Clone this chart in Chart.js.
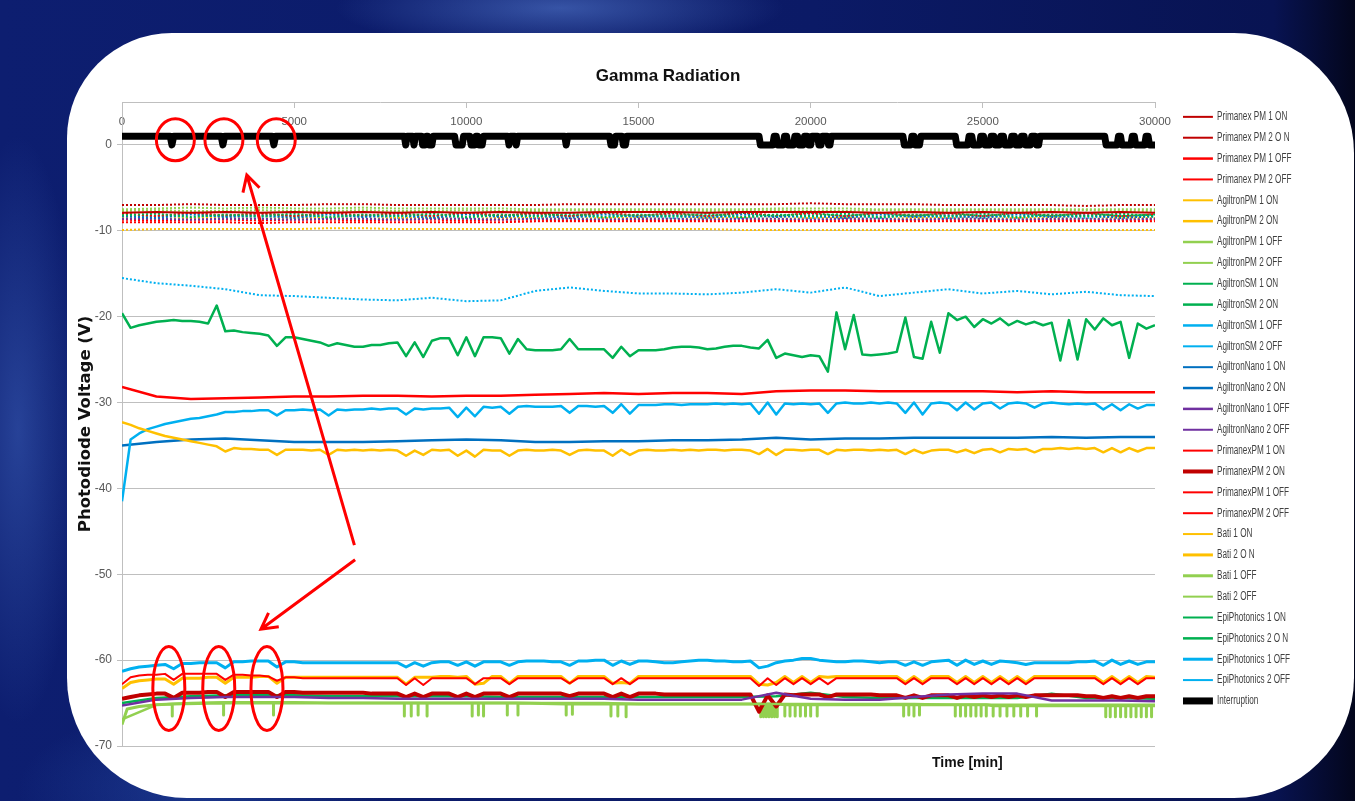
<!DOCTYPE html>
<html lang="en">
<head>
  <meta charset="UTF-8">
  <title>Gamma Radiation</title>
  <script src="https://cdn.jsdelivr.net/npm/chart.js"></script>
  <style>
    body {
      margin: 0;
      width: 1355px;
      height: 801px;
      overflow: hidden;
      position: relative;
      background:
        radial-gradient(ellipse 320px 60px at 560px 8px, rgba(90,130,215,0.55), transparent 70%),
        radial-gradient(ellipse 90px 420px at 18px 430px, rgba(70,110,200,0.45), transparent 70%),
        radial-gradient(ellipse 260px 120px at 200px 790px, rgba(40,80,170,0.5), transparent 70%),
        linear-gradient(90deg, #0d1e70 0%, #0b1a66 60%, #081352 94%, #03061c 100%);
    }
    .card {
      position: absolute;
      left: 67px;
      top: 33px;
      width: 1287px;
      height: 765px;
      background: #fff;
      border-radius: 105px 120px 120px 120px;
    }
    canvas {
      position: absolute;
      left: 0;
      top: 0;
    }
  </style>
</head>
<body>
<div class="card"></div>
<canvas id="grafico" width="1355" height="801"></canvas>

<script>
  // time grids (minutes)
  const tCoarse = [0,1000,2000,3000,4000,5000,6000,7000,8000,9000,10000,11000,12000,13000,14000,15000,
    16000,17000,18000,19000,20000,21000,22000,23000,24000,25000,26000,27000,28000,29000,30000];

  const tFine = [0,250,500,750,1000,1250,1500,1750,2000,2250,2500,2750,3000,3250,3500,3750,4000,4250,4500,4750,
    5000,5250,5500,5750,6000,6250,6500,6750,7000,7250,7500,7750,8000,8250,8500,8750,9000,9250,9500,9750,
    10000,10250,10500,10750,11000,11250,11500,11750,12000,12250,12500,12750,13000,13250,13500,13750,14000,14250,14500,14750,
    15000,15250,15500,15750,16000,16250,16500,16750,17000,17250,17500,17750,18000,18250,18500,18750,19000,19250,19500,19750,
    20000,20250,20500,20750,21000,21250,21500,21750,22000,22250,22500,22750,23000,23250,23500,23750,24000,24250,24500,24750,
    25000,25250,25500,25750,26000,26250,26500,26750,27000,27250,27500,27750,28000,28250,28500,28750,29000,29250,29500,29750,30000];

  // coarse series (V)
  const primanexPm1On = [-7.0,-7.0,-6.9,-7.0,-7.0,-7.0,-6.9,-6.9,-7.0,-7.0,-7.0,-7.0,-7.0,-6.9,-6.9,-6.9,-6.9,-6.9,-6.9,-6.9,-6.8,-6.9,-6.9,-6.9,-7.0,-7.0,-7.0,-7.0,-7.1,-7.0,-7.0];
  const primanexPm2On = [-7.9,-7.8,-7.9,-7.8,-7.9,-7.8,-7.9,-7.8,-7.9,-7.8,-7.9,-7.8,-7.9,-7.9,-7.8,-7.8,-7.8,-7.9,-7.8,-7.8,-7.8,-7.8,-7.9,-7.8,-7.9,-7.8,-7.9,-7.8,-7.9,-7.8,-7.9];
  const primanexPm1Off = [-28.2,-29.3,-29.6,-29.5,-29.4,-29.3,-29.3,-29.2,-29.2,-29.3,-29.2,-29.2,-29.1,-29.0,-28.9,-29.0,-28.9,-28.9,-29.0,-28.7,-28.6,-28.6,-28.7,-28.7,-28.7,-28.7,-28.8,-28.7,-28.8,-28.8,-28.8];
  const primanexPm2Off = [-9.0,-9.0,-9.0,-9.0,-9.1,-9.0,-9.0,-9.0,-9.0,-9.0,-9.0,-9.0,-8.9,-8.9,-8.9,-8.9,-8.9,-8.9,-8.9,-8.9,-8.9,-8.9,-8.9,-8.9,-8.9,-8.9,-8.9,-8.9,-8.9,-8.9,-8.9];
  const agiltronPm1On = [-9.9,-9.8,-9.8,-9.8,-9.8,-9.8,-9.7,-9.7,-9.8,-9.8,-9.8,-9.8,-9.8,-9.8,-9.8,-9.8,-9.8,-9.8,-9.9,-9.9,-9.9,-9.9,-9.9,-9.9,-9.9,-9.9,-9.9,-9.9,-9.9,-9.9,-9.9];
  const agiltronPm1Off = [-66.9,-65.2,-65.0,-64.9,-64.9,-64.9,-65.0,-65.0,-65.0,-65.0,-65.0,-65.0,-65.0,-65.0,-65.0,-65.1,-65.1,-65.1,-65.1,-65.1,-65.1,-65.1,-65.1,-65.1,-65.2,-65.2,-65.2,-65.2,-65.2,-65.2,-65.2];
  const agiltronPm2Off = [-7.5,-7.4,-7.3,-7.4,-7.3,-7.4,-7.4,-7.3,-7.4,-7.4,-7.4,-7.4,-7.5,-7.5,-7.5,-7.5,-7.5,-7.5,-7.5,-7.4,-7.4,-7.4,-7.5,-7.5,-7.5,-7.5,-7.5,-7.5,-7.5,-7.5,-7.5];
  const agiltronSm1On = [-8.2,-8.0,-8.4,-8.1,-8.3,-8.0,-8.4,-8.1,-8.3,-8.0,-8.4,-8.1,-8.3,-8.0,-8.4,-8.1,-8.3,-8.0,-8.4,-8.1,-8.3,-8.0,-8.4,-8.1,-8.3,-8.0,-8.4,-8.1,-8.3,-8.0,-8.3];
  const agiltronSm2Off = [-15.5,-16.1,-16.4,-16.8,-17.5,-17.6,-17.8,-18.0,-18.1,-17.8,-18.2,-18.1,-17.0,-16.6,-17.0,-17.3,-17.3,-17.4,-17.2,-16.8,-17.2,-16.6,-17.6,-17.2,-16.8,-17.3,-17.0,-17.4,-17.1,-17.5,-17.6];
  const agiltronNano1On = [-8.3,-8.5,-8.1,-8.4,-8.2,-8.5,-8.1,-8.4,-8.2,-8.5,-8.1,-8.4,-8.2,-8.5,-8.1,-8.4,-8.2,-8.5,-8.1,-8.4,-8.2,-8.5,-8.1,-8.4,-8.2,-8.5,-8.1,-8.4,-8.2,-8.5,-8.3];
  const agiltronNano2On = [-35.0,-34.6,-34.3,-34.2,-34.4,-34.6,-34.6,-34.6,-34.5,-34.4,-34.3,-34.4,-34.6,-34.6,-34.5,-34.5,-34.4,-34.4,-34.3,-34.1,-34.3,-34.2,-34.2,-34.1,-34.1,-34.1,-34.1,-34.0,-34.1,-34.0,-34.0];
  const agiltronNano1Off = [-65.3,-64.6,-64.4,-64.3,-64.3,-64.3,-64.4,-64.4,-64.5,-64.5,-64.5,-64.5,-64.5,-64.5,-64.5,-64.6,-64.6,-64.6,-64.6,-63.8,-64.5,-64.6,-64.6,-64.3,-64.0,-63.9,-63.9,-64.7,-64.7,-64.7,-64.8];
  const agiltronNano2Off = [-8.6,-8.6,-8.7,-8.6,-8.6,-8.7,-8.6,-8.6,-8.7,-8.6,-8.6,-8.7,-8.6,-8.6,-8.7,-8.6,-8.6,-8.7,-8.6,-8.6,-8.7,-8.6,-8.6,-8.7,-8.6,-8.6,-8.7,-8.6,-8.6,-8.7,-8.6];
  const primanexPM1On = [-8.0,-8.3,-7.9,-8.2,-8.0,-8.3,-7.9,-8.2,-8.0,-8.3,-7.9,-8.2,-8.0,-8.3,-7.9,-8.2,-8.0,-8.3,-7.9,-8.2,-8.0,-8.3,-7.9,-8.2,-8.0,-8.3,-7.9,-8.2,-8.0,-8.3,-8.1];
  const primanexPM2Off = [-8.7,-8.8,-8.7,-8.7,-8.8,-8.7,-8.7,-8.8,-8.7,-8.7,-8.8,-8.7,-8.7,-8.8,-8.7,-8.7,-8.8,-8.7,-8.7,-8.8,-8.7,-8.7,-8.8,-8.7,-8.7,-8.8,-8.7,-8.7,-8.8,-8.7,-8.7];
  const bati1On = [-8.5,-8.6,-8.5,-8.5,-8.6,-8.5,-8.5,-8.6,-8.5,-8.5,-8.6,-8.5,-8.5,-8.6,-8.5,-8.5,-8.6,-8.5,-8.5,-8.6,-8.5,-8.5,-8.6,-8.5,-8.5,-8.6,-8.5,-8.5,-8.6,-8.5,-8.5];
  const bati2Off = [-7.7,-7.6,-7.7,-7.7,-7.6,-7.7,-7.7,-7.6,-7.7,-7.7,-7.6,-7.7,-7.7,-7.6,-7.7,-7.7,-7.6,-7.7,-7.7,-7.6,-7.7,-7.7,-7.6,-7.7,-7.7,-7.6,-7.7,-7.7,-7.6,-7.7,-7.7];
  const epiPhotonics1On = [-8.0,-8.3,-7.9,-8.3,-7.9,-8.3,-7.9,-8.3,-7.9,-8.3,-7.9,-8.3,-7.9,-8.3,-7.9,-8.3,-7.9,-8.3,-7.9,-8.3,-7.9,-8.3,-7.9,-8.3,-7.9,-8.3,-7.9,-8.3,-7.9,-8.3,-8.1];
  const epiPhotonics2On = [-65.0,-64.4,-64.2,-64.1,-64.1,-64.1,-64.2,-64.2,-64.2,-64.2,-64.2,-64.3,-64.3,-64.3,-64.3,-64.3,-64.3,-64.3,-64.3,-64.2,-63.8,-64.3,-64.4,-64.4,-64.4,-64.4,-64.4,-63.9,-64.4,-64.4,-64.5];
  const epiPhotonics2Off = [-8.4,-8.2,-8.5,-8.2,-8.5,-8.2,-8.5,-8.2,-8.5,-8.2,-8.5,-8.2,-8.5,-8.2,-8.5,-8.2,-8.5,-8.2,-8.5,-8.2,-8.5,-8.2,-8.5,-8.2,-8.5,-8.2,-8.5,-8.2,-8.5,-8.2,-8.4];

  // fine series (V)
  const agiltronPm2On = [
    -32.3,-32.6,-33.0,-33.3,-33.6,-33.9,-34.1,-34.3,-34.5,-34.7,-34.9,-35.1,-35.7,-35.3,-35.4,-35.4,-35.5,-35.5,-36.1,-35.5,
    -35.5,-35.5,-35.6,-35.5,-36.1,-35.5,-35.6,-35.5,-35.6,-35.5,-35.6,-35.5,-35.6,-36.2,-35.6,-36.1,-35.5,-35.6,-35.5,-36.2,
    -35.6,-36.3,-35.5,-35.6,-35.6,-36.2,-35.6,-35.5,-35.6,-35.6,-35.5,-35.6,-36.1,-35.6,-35.5,-35.6,-35.6,-36.2,-35.5,-36.1,
    -35.6,-35.5,-35.6,-35.6,-35.5,-35.6,-35.5,-35.6,-35.5,-35.5,-35.6,-35.5,-35.5,-35.6,-36.0,-35.4,-36.1,-35.5,-35.5,-35.6,
    -35.5,-35.5,-36.0,-35.5,-35.6,-35.5,-35.5,-35.6,-35.5,-35.6,-35.5,-36.0,-35.5,-35.9,-35.6,-35.5,-35.5,-35.8,-35.5,-35.9,
    -35.5,-35.4,-35.8,-35.4,-35.5,-35.4,-35.8,-35.4,-35.4,-35.3,-35.4,-35.3,-35.4,-35.3,-35.8,-35.3,-35.8,-35.3,-35.7,-35.3,-35.3];
  const agiltronSm2On = [
    -19.6,-21.3,-21.0,-20.8,-20.6,-20.5,-20.4,-20.5,-20.5,-20.6,-20.8,-18.7,-21.7,-21.6,-21.8,-21.9,-22.0,-22.2,-23.4,-22.4,
    -22.4,-22.6,-22.8,-23.0,-23.4,-23.1,-23.3,-23.5,-23.5,-23.3,-23.3,-23.1,-23.0,-24.6,-23.0,-24.7,-22.8,-22.5,-22.5,-24.5,
    -22.4,-24.6,-22.4,-22.4,-22.5,-24.3,-22.6,-23.8,-23.9,-23.9,-23.9,-23.8,-22.6,-23.8,-23.8,-23.8,-23.8,-24.8,-23.5,-24.6,
    -23.9,-23.9,-23.9,-23.8,-23.6,-23.5,-23.5,-23.6,-23.8,-23.7,-23.5,-23.4,-23.4,-23.6,-23.7,-22.7,-24.8,-24.3,-24.5,-24.7,
    -24.5,-24.6,-26.4,-19.5,-23.8,-19.8,-24.4,-24.5,-24.4,-24.3,-24.1,-20.1,-24.7,-24.9,-20.6,-24.2,-19.6,-20.4,-20.0,-21.2,
    -20.3,-20.8,-20.2,-21.0,-20.5,-20.9,-20.6,-21.0,-20.7,-25.1,-20.4,-25.0,-20.3,-21.5,-20.2,-21.0,-20.6,-24.8,-20.8,-21.4,-21.0];
  const agiltronSm1Off = [
    -41.5,-34.3,-33.6,-33.1,-32.8,-32.5,-32.3,-32.1,-31.9,-31.8,-31.6,-31.4,-31.1,-31.1,-31.0,-31.0,-30.9,-30.9,-31.5,-30.9,
    -30.9,-30.8,-30.9,-30.8,-31.5,-30.8,-30.9,-30.8,-30.8,-30.7,-30.8,-30.7,-30.7,-31.4,-30.7,-30.8,-30.7,-30.7,-30.6,-31.7,
    -30.6,-31.6,-30.5,-30.6,-30.5,-31.3,-30.5,-30.4,-30.5,-30.5,-30.5,-30.4,-31.2,-30.4,-30.4,-30.5,-30.4,-31.2,-30.2,-31.3,
    -30.3,-30.3,-30.3,-30.2,-30.2,-30.3,-30.2,-30.2,-30.2,-30.1,-30.2,-30.1,-30.2,-30.1,-31.3,-30.0,-31.4,-30.1,-30.2,-30.1,
    -30.2,-30.1,-31.2,-30.1,-30.0,-30.1,-30.1,-30.0,-30.1,-30.0,-30.1,-31.2,-30.0,-31.4,-30.1,-30.0,-30.1,-30.9,-30.0,-30.8,
    -30.1,-30.0,-30.7,-30.1,-30.0,-30.1,-30.6,-30.1,-30.0,-30.1,-30.2,-30.1,-30.2,-30.1,-30.8,-30.2,-30.9,-30.2,-30.7,-30.3,-30.3];
  const primanexPM2On = [
    -64.5,-64.3,-64.1,-64.0,-63.9,-63.9,-64.4,-63.8,-63.8,-63.8,-63.7,-63.7,-64.3,-63.7,-63.7,-63.7,-63.7,-63.7,-64.3,-63.7,
    -63.7,-63.8,-63.8,-63.8,-63.8,-63.8,-63.8,-63.8,-63.8,-63.9,-63.9,-63.9,-63.9,-64.3,-63.9,-64.3,-63.9,-63.9,-63.9,-64.3,
    -63.9,-64.3,-63.9,-63.9,-63.9,-64.3,-63.9,-63.9,-63.9,-63.9,-63.9,-63.9,-64.2,-63.9,-63.9,-63.9,-63.9,-64.3,-63.9,-64.3,
    -63.9,-63.9,-63.9,-64.0,-64.0,-64.0,-64.0,-64.0,-64.0,-64.0,-64.0,-64.0,-64.0,-64.0,-66.0,-64.1,-65.4,-64.0,-64.1,-64.0,
    -64.0,-64.0,-64.3,-64.0,-64.0,-64.0,-64.0,-64.0,-64.1,-64.1,-64.1,-64.4,-64.1,-64.4,-64.1,-64.1,-64.1,-64.4,-64.1,-64.3,
    -64.1,-64.3,-64.1,-64.3,-64.1,-64.3,-64.1,-64.1,-64.1,-64.1,-64.1,-64.1,-64.2,-64.2,-64.4,-64.2,-64.4,-64.2,-64.4,-64.2,-64.2];
  const primanexPM1Off = [
    -62.8,-62.0,-61.8,-61.7,-61.7,-61.6,-62.3,-61.6,-61.6,-61.6,-61.6,-61.6,-62.3,-61.7,-61.7,-61.8,-61.8,-61.9,-62.4,-62.0,
    -62.0,-62.1,-62.1,-62.1,-62.1,-62.1,-62.1,-62.1,-62.1,-62.1,-62.1,-62.1,-62.1,-62.9,-62.1,-62.9,-62.1,-62.1,-62.1,-62.1,
    -62.1,-62.8,-62.1,-62.1,-62.1,-62.8,-62.1,-62.1,-62.1,-62.1,-62.1,-62.1,-62.7,-62.1,-62.1,-62.1,-62.1,-62.8,-62.1,-62.8,
    -62.1,-62.1,-62.1,-62.1,-62.1,-62.1,-62.1,-62.1,-62.1,-62.1,-62.1,-62.1,-62.1,-62.1,-63.0,-62.1,-62.9,-62.1,-62.8,-62.1,
    -62.8,-62.1,-62.8,-62.1,-62.1,-62.1,-62.1,-62.1,-62.1,-62.1,-62.1,-62.8,-62.1,-62.8,-62.1,-62.1,-62.1,-62.8,-62.1,-62.8,
    -62.1,-62.8,-62.1,-62.8,-62.1,-62.8,-62.1,-62.1,-62.1,-62.1,-62.1,-62.1,-62.1,-62.1,-62.8,-62.1,-62.8,-62.1,-62.8,-62.1,-62.1];
  const bati2On = [
    -63.3,-62.6,-62.4,-62.3,-62.2,-62.2,-62.8,-62.1,-62.1,-62.1,-62.0,-62.0,-62.7,-62.0,-62.0,-62.0,-61.9,-61.9,-62.7,-62.0,
    -62.0,-62.0,-62.0,-62.0,-62.0,-62.0,-62.0,-62.0,-62.0,-62.0,-62.0,-62.0,-62.0,-62.8,-62.0,-62.0,-62.0,-61.9,-61.9,-62.0,
    -61.9,-62.8,-62.7,-61.9,-61.9,-62.7,-61.9,-61.9,-61.9,-61.9,-61.9,-61.9,-62.7,-61.9,-61.9,-61.9,-61.9,-62.7,-62.6,-62.7,
    -61.9,-61.9,-61.9,-61.9,-61.9,-61.9,-61.9,-61.9,-61.9,-61.9,-61.9,-61.9,-61.9,-61.9,-62.8,-62.9,-62.6,-61.9,-62.6,-61.9,
    -62.6,-61.9,-62.0,-61.9,-61.9,-61.9,-61.9,-61.9,-61.9,-61.9,-61.9,-62.6,-61.9,-62.6,-61.9,-61.9,-61.9,-62.6,-61.9,-62.6,
    -61.9,-62.6,-61.9,-62.6,-61.9,-62.6,-61.9,-61.9,-61.9,-61.9,-61.9,-61.9,-61.9,-61.9,-62.6,-61.9,-62.6,-61.9,-62.6,-61.9,-62.0];
  const epiPhotonics1Off = [
    -61.3,-61.0,-60.8,-60.7,-60.6,-60.5,-61.0,-60.4,-60.4,-60.3,-60.3,-60.3,-60.9,-60.2,-60.2,-60.1,-60.1,-60.1,-60.8,-60.2,
    -60.2,-60.3,-60.3,-60.3,-60.3,-60.3,-60.3,-60.3,-60.3,-60.3,-60.3,-60.3,-60.3,-60.8,-60.3,-60.7,-60.3,-60.2,-60.2,-60.6,
    -60.2,-60.7,-60.2,-60.2,-60.2,-60.6,-60.2,-60.1,-60.1,-60.1,-60.2,-60.2,-60.6,-60.1,-60.1,-60.0,-60.0,-60.6,-60.1,-60.5,
    -60.1,-60.1,-60.2,-60.3,-60.3,-60.2,-60.1,-60.0,-60.0,-60.1,-60.1,-60.2,-60.2,-60.1,-60.9,-60.7,-60.3,-60.1,-60.0,-59.8,
    -59.8,-60.0,-60.1,-60.2,-60.2,-60.1,-60.1,-60.2,-60.3,-60.2,-60.2,-60.6,-60.2,-60.6,-60.2,-60.1,-60.0,-60.6,-60.0,-60.5,
    -60.1,-60.5,-60.1,-60.2,-60.3,-60.5,-60.3,-60.3,-60.3,-60.3,-60.3,-60.2,-60.2,-60.1,-60.6,-60.0,-60.5,-60.1,-60.5,-60.2,-60.2];

  // Bati 1 OFF: logged with its own time stamps, each drop is a sharp dip and back
  const bati1OffT = [0,150,500,1000,
    1460,1460,1460, 2950,2950,2950, 4400,4400,4400, 6000,
    8200,8200,8200, 8400,8400,8400, 8600,8600,8600, 8860,8860,8860,
    10170,10170,10170, 10350,10350,10350, 10500,10500,10500, 11190,11190,11190, 11500,11500,11500,
    12900,12900,12900, 13080,13080,13080, 14200,14200,14200, 14400,14400,14400, 14640,14640,14640, 16500,
    18550,18550,18550, 18630,18630,18630, 18710,18710,18710, 18790,18790,18790, 18870,18870,18870, 18950,18950,18950, 19030,19030,19030,
    19250,19250,19250, 19400,19400,19400, 19550,19550,19550, 19700,19700,19700, 19850,19850,19850, 20000,20000,20000, 20190,20190,20190,
    21500,
    22700,22700,22700, 22850,22850,22850, 23000,23000,23000, 23160,23160,23160,
    24200,24200,24200, 24350,24350,24350, 24500,24500,24500, 24650,24650,24650, 24800,24800,24800, 24950,24950,24950, 25100,25100,25100,
    25300,25300,25300, 25500,25500,25500, 25700,25700,25700, 25900,25900,25900, 26100,26100,26100, 26300,26300,26300, 26560,26560,26560,
    27500,
    28570,28570,28570, 28700,28700,28700, 28850,28850,28850, 29000,29000,29000, 29150,29150,29150, 29300,29300,29300,
    29450,29450,29450, 29600,29600,29600, 29750,29750,29750, 29900,29900,29900, 30000];
  const bati1OffV = [-67.5,-65.7,-65.4,-65.2,
    -65.1,-66.5,-65.1, -65.0,-66.4,-65.0, -65.0,-66.4,-65.0, -65.0,
    -65.0,-66.5,-65.0, -65.0,-66.5,-65.0, -65.0,-66.4,-65.0, -65.0,-66.5,-65.0,
    -65.0,-66.5,-65.0, -65.0,-66.4,-65.0, -65.0,-66.5,-65.0, -65.0,-66.4,-65.0, -65.0,-66.4,-65.0,
    -65.1,-66.4,-65.1, -65.1,-66.3,-65.1, -65.1,-66.5,-65.1, -65.1,-66.5,-65.1, -65.1,-66.6,-65.1, -65.1,
    -65.1,-66.6,-65.1, -65.1,-66.6,-65.1, -65.1,-66.6,-65.1, -65.1,-66.6,-65.1, -65.1,-66.6,-65.1, -65.1,-66.6,-65.1, -65.1,-66.6,-65.1,
    -65.2,-66.5,-65.2, -65.2,-66.5,-65.2, -65.2,-66.5,-65.2, -65.2,-66.5,-65.2, -65.2,-66.5,-65.2, -65.2,-66.5,-65.2, -65.2,-66.5,-65.2,
    -65.2,
    -65.2,-66.5,-65.2, -65.2,-66.4,-65.2, -65.2,-66.5,-65.2, -65.2,-66.4,-65.2,
    -65.2,-66.5,-65.2, -65.2,-66.5,-65.2, -65.2,-66.5,-65.2, -65.2,-66.5,-65.2, -65.2,-66.5,-65.2, -65.2,-66.5,-65.2, -65.2,-66.5,-65.2,
    -65.3,-66.5,-65.3, -65.3,-66.5,-65.3, -65.3,-66.5,-65.3, -65.3,-66.5,-65.3, -65.3,-66.5,-65.3, -65.3,-66.5,-65.3, -65.3,-66.5,-65.3,
    -65.3,
    -65.3,-66.6,-65.3, -65.3,-66.6,-65.3, -65.3,-66.6,-65.3, -65.3,-66.6,-65.3, -65.3,-66.6,-65.3, -65.3,-66.6,-65.3,
    -65.3,-66.6,-65.3, -65.3,-66.6,-65.3, -65.3,-66.6,-65.3, -65.3,-66.6,-65.3, -65.3];

  // interruption trace: 1 = running, 0 = interrupted
  const intTime = [0,1400,1450,1500, 2880,2930,2980, 4360,4410,4460, 8200,8240,8280, 8440,8480,8520,
    8700,8730,8800,8840,8880,8920,9000,9040, 9660,9700,9880,9920, 10100,10140,10240,10280,10330,10370,10460,10500,
    11200,11240,11280, 11410,11450,11490, 12860,12900,12940, 14160,14200,14300,14340,14520,14560,14620,14660,
    18500,18540,18900,18940,19000,19040,19200,19240,19300,19340,19500,19540,19620,19660,19780,19820,
    19900,19940,20000,20040,20200,20240,20300,20340,20480,20520,20560,20600,
    22680,22720,22900,22940,23000,23040,23160,23200,
    24200,24240,24560,24600,24680,24720,24900,24940,25020,25060,25200,25240,25320,25360,25480,25520,
    25600,25640,25800,25840,25920,25960,26080,26120,26200,26240,26380,26420,26520,26560,26620,26660,
    28540,28580,28900,28940,29000,29040,29300,29340,29400,29440,29700,29740,29800,29840,30000];
  const intLevel = [1,1,0,1, 1,0,1, 1,0,1, 1,0,1, 1,0,1,
    1,0,0,1,1,0,0,1, 1,0,0,1, 1,0,0,1,1,0,0,1,
    1,0,1, 1,0,1, 1,0,1, 1,0,0,1,1,0,0,1,
    1,0,0,1,1,0,0,1,1,0,0,1,1,0,0,1,
    1,0,0,1,1,0,0,1,1,0,0,1,
    1,0,0,1,1,0,0,1,
    1,0,0,1,1,0,0,1,1,0,0,1,1,0,0,1,
    1,0,0,1,1,0,0,1,1,0,0,1,1,0,0,1,
    1,0,0,1,1,0,0,1,1,0,0,1,1,0,0];

  const FONT = "'Liberation Sans', Arial, sans-serif";

  const pts = (xs, ys) => xs.map((x, i) => ({ x: x, y: ys[i] }));

  // label, x, y, colour, dotted, width
  const series = [
    ["Primanex PM 1 ON", tCoarse, primanexPm1On, "#c00000", true, 2],
    ["Primanex PM 2 O N", tCoarse, primanexPm2On, "#c00000", false, 2],
    ["Primanex PM 1 OFF", tCoarse, primanexPm1Off, "#ff0000", false, 2.5],
    ["Primanex PM 2 OFF", tCoarse, primanexPm2Off, "#ff0000", true, 2],
    ["AgiltronPM 1 ON", tCoarse, agiltronPm1On, "#ffc000", true, 2],
    ["AgiltronPM 2 ON", tFine, agiltronPm2On, "#ffc000", false, 2.5],
    ["AgiltronPM 1 OFF", tCoarse, agiltronPm1Off, "#92d050", false, 2.5],
    ["AgiltronPM 2 OFF", tCoarse, agiltronPm2Off, "#92d050", true, 2],
    ["AgiltronSM 1 ON", tCoarse, agiltronSm1On, "#00b050", true, 2],
    ["AgiltronSM 2 ON", tFine, agiltronSm2On, "#00b050", false, 2.5],
    ["AgiltronSM 1 OFF", tFine, agiltronSm1Off, "#00b0f0", false, 2.5],
    ["AgiltronSM 2 OFF", tCoarse, agiltronSm2Off, "#00b0f0", true, 2],
    ["AgiltronNano 1 ON", tCoarse, agiltronNano1On, "#0070c0", true, 2],
    ["AgiltronNano 2 ON", tCoarse, agiltronNano2On, "#0070c0", false, 2.5],
    ["AgiltronNano 1 OFF", tCoarse, agiltronNano1Off, "#7030a0", false, 2.5],
    ["AgiltronNano 2 OFF", tCoarse, agiltronNano2Off, "#7030a0", true, 2],
    ["PrimanexPM 1 ON", tCoarse, primanexPM1On, "#ff0000", true, 2],
    ["PrimanexPM 2 ON", tFine, primanexPM2On, "#c00000", false, 4],
    ["PrimanexPM 1 OFF", tFine, primanexPM1Off, "#ff0000", false, 2],
    ["PrimanexPM 2 OFF", tCoarse, primanexPM2Off, "#ff0000", true, 2],
    ["Bati 1 ON", tCoarse, bati1On, "#ffc000", true, 2],
    ["Bati 2 O N", tFine, bati2On, "#ffc000", false, 3],
    ["Bati 1 OFF", bati1OffT, bati1OffV, "#92d050", false, 3],
    ["Bati 2 OFF", tCoarse, bati2Off, "#92d050", true, 2],
    ["EpiPhotonics 1 ON", tCoarse, epiPhotonics1On, "#00b050", true, 2],
    ["EpiPhotonics 2 O N", tCoarse, epiPhotonics2On, "#00b050", false, 2.5],
    ["EpiPhotonics 1 OFF", tFine, epiPhotonics1Off, "#00b0f0", false, 3],
    ["EpiPhotonics 2 OFF", tCoarse, epiPhotonics2Off, "#00b0f0", true, 2],
    ["Interruption", intTime, intLevel, "#000000", false, 7]
  ];

  const datasets = series.map(s => ({
    label: s[0],
    data: pts(s[1], s[2]),
    borderColor: s[3],
    backgroundColor: s[3],
    borderDash: s[4] ? [2, 2] : [],
    borderWidth: s[5],
    borderJoinStyle: "round",
    pointRadius: 0,
    tension: 0,
    fill: false
  }));

  // red rings and arrows added on the slide (data coordinates)
  const ringsTop = [1550, 2960, 4480];
  const ringsBottom = [1360, 2810, 4210];

  const LEG_PAD = 8.86;
  const LEG_SQUEEZE = 0.68;

  // the slide uses a condensed face, so the legend is squeezed horizontally
  const leyendaAngosta = {
    id: "leyendaAngosta",
    beforeUpdate(chart) {
      const lg = chart.legend;
      if (!lg || lg._angosta) return;
      const fit = lg.fit.bind(lg);
      const draw = lg.draw.bind(lg);
      lg.fit = function () { fit(); this.width = 151; };
      lg.draw = function (area) {
        const c = chart.ctx;
        const x0 = chart.chartArea.right + 28 - LEG_PAD * LEG_SQUEEZE;
        const right = lg.right;
        lg.right = lg.left + 400;
        c.save();
        c.translate(x0, 0);
        c.scale(LEG_SQUEEZE, 1);
        c.translate(-lg.left, 0);
        draw(area);
        c.restore();
        lg.right = right;
      };
      lg._angosta = true;
    }
  };

  const marcas = {
    id: "marcas",
    afterDatasetsDraw(chart) {
      const { ctx, scales: { x, y }, chartArea } = chart;
      ctx.save();
      ctx.strokeStyle = "#ff0000";
      ctx.lineWidth = 3;
      ringsTop.forEach(t => {
        ctx.beginPath();
        ctx.ellipse(x.getPixelForValue(t), y.getPixelForValue(0.6), 19, 21, 0, 0, Math.PI * 2);
        ctx.stroke();
      });
      ringsBottom.forEach(t => {
        ctx.beginPath();
        ctx.ellipse(x.getPixelForValue(t), y.getPixelForValue(-63.3), 16, 42, 0, 0, Math.PI * 2);
        ctx.stroke();
      });
      const arrow = (t0, v0, t1, v1) => {
        const x0 = x.getPixelForValue(t0), y0 = y.getPixelForValue(v0);
        const x1 = x.getPixelForValue(t1), y1 = y.getPixelForValue(v1);
        const a = Math.atan2(y1 - y0, x1 - x0);
        ctx.beginPath();
        ctx.moveTo(x0, y0);
        ctx.lineTo(x1, y1);
        ctx.moveTo(x1 - 18 * Math.cos(a - 0.5), y1 - 18 * Math.sin(a - 0.5));
        ctx.lineTo(x1, y1);
        ctx.lineTo(x1 - 18 * Math.cos(a + 0.5), y1 - 18 * Math.sin(a + 0.5));
        ctx.stroke();
      };
      arrow(6750, -46.6, 3625, -3.5);
      arrow(6770, -48.3, 4035, -56.4);

      ctx.fillStyle = "#111";
      ctx.font = "bold 14px " + FONT;
      ctx.textAlign = "center";
      ctx.textBaseline = "middle";
      ctx.fillText("Time [min]", x.getPixelForValue(24550), chartArea.bottom + 17);
      ctx.restore();
    }
  };

  new Chart(document.getElementById("grafico"), {
    type: "line",
    data: { datasets: datasets },
    options: {
      responsive: false,
      animation: false,
      layout: { padding: { left: 30, right: 49, top: 52, bottom: 55 } },
      plugins: {
        title: {
          display: true,
          text: "Gamma Radiation",
          color: "#111",
          font: { family: FONT, size: 17, weight: "bold" },
          padding: { top: 14, bottom: 15.6 }
        },
        legend: {
          position: "right",
          align: "start",
          fullSize: false,
          labels: {
            usePointStyle: true,
            pointStyle: "line",
            pointStyleWidth: 44,
            padding: LEG_PAD,
            color: "#404040",
            font: { family: FONT, size: 12 }
          }
        },
        tooltip: { enabled: false }
      },
      scales: {
        x: {
          type: "linear",
          position: { y: 5 },
          min: 0,
          max: 30000,
          ticks: {
            stepSize: 5000,
            autoSkip: false,
            maxRotation: 0,
            padding: 8,
            color: "#595959",
            font: { family: FONT, size: 11.5 },
            callback: v => String(v)
          },
          grid: { drawOnChartArea: false, tickLength: 5, color: "#bfbfbf" },
          border: { color: "#bfbfbf" }
        },
        y: {
          min: -70,
          max: 5,
          afterFit: s => { s.width = 92; },
          ticks: {
            stepSize: 10,
            includeBounds: false,
            padding: 5,
            color: "#595959",
            font: { family: FONT, size: 12 }
          },
          grid: { color: "#bfbfbf", tickLength: 5 },
          border: { color: "#bfbfbf" },
          title: {
            display: true,
            text: "Photodiode Voltage (V)",
            color: "#111",
            font: { family: "'DejaVu Sans', Verdana, sans-serif", size: 16.5, weight: "bold" },
            padding: { top: 46, bottom: 0 }
          }
        }
      }
    },
    plugins: [leyendaAngosta, marcas]
  });
</script>
</body>
</html>
